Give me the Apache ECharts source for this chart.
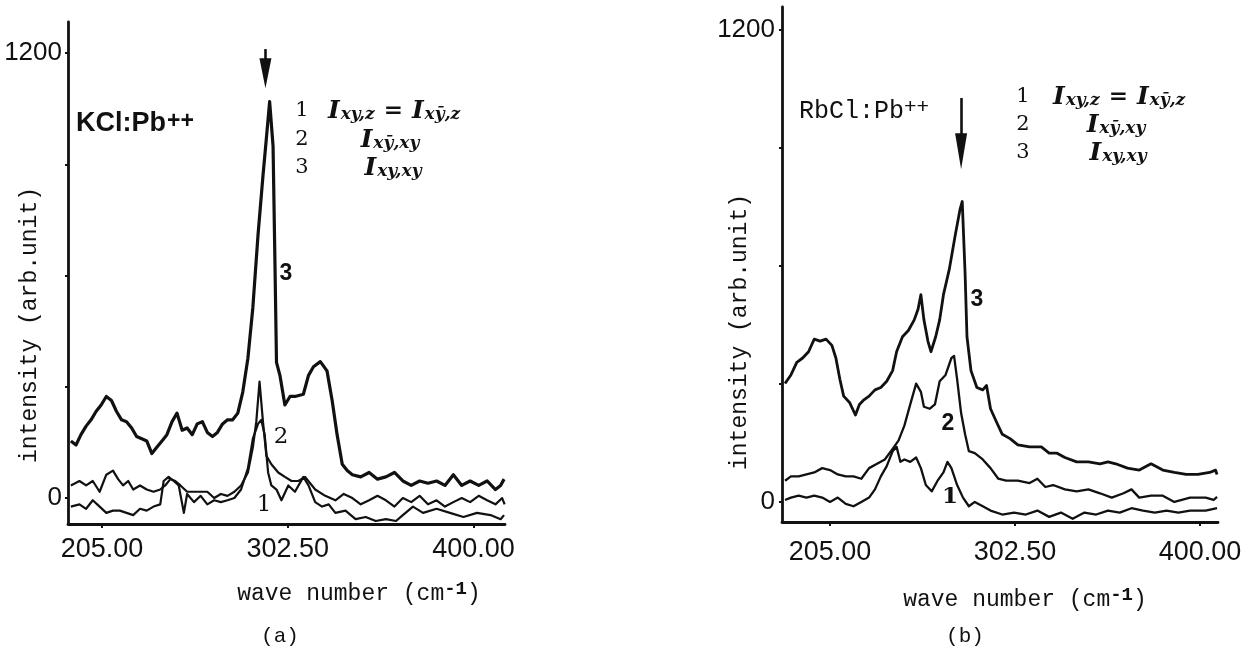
<!DOCTYPE html>
<html>
<head>
<meta charset="utf-8">
<script src="https://cdn.jsdelivr.net/npm/echarts@6/dist/echarts.min.js"></script>
<style>
html,body{margin:0;padding:0;background:#fff;}
#chart{width:1254px;height:663px;}
</style>
</head>
<body>
<div id="chart"></div>
<script>
// ---------- Tick labels ----------
const xTickValues = [205, 302.5, 400];
const yLabelValues = [0, 1200];
const yTickValues = [0, 300, 600, 900, 1200];

// ---------- (a) KCl:Pb++ ----------
const kclX3 = [188.7,191.4,194.0,196.7,199.3,202.0,204.6,207.3,210.0,212.6,215.3,217.9,220.6,223.2,225.9,228.5,231.2,233.8,236.5,239.1,241.8,244.4,247.1,249.7,252.4,255.0,257.7,260.3,263.0,265.6,268.3,270.9,273.6,276.3,278.9,281.6,284.2,286.9,289.5,291.3,293.0,294.8,295.7,296.6,298.4,301.0,303.7,306.3,310.7,313.4,316.0,319.6,323.1,325.8,328.4,331.1,333.7,336.4,340.8,345.2,349.6,354.0,358.5,362.9,367.3,371.7,376.1,380.6,385.0,389.4,393.8,398.2,402.7,407.1,411.5,414.2,416.0];
const kclY3 = [154,143,171,194,211,234,251,274,263,234,211,206,189,166,160,154,120,137,154,171,206,229,183,189,171,200,206,177,166,177,200,211,211,229,286,377,514,709,869,971,1069,949,663,366,331,251,274,274,280,331,354,368,343,263,171,91,74,63,57,69,51,57,69,46,34,46,40,46,34,63,34,46,34,46,23,34,51];

const kclX2 = [188.7,193.2,196.7,200.2,203.8,207.3,210.8,213.5,216.1,218.8,221.4,225.0,228.5,232.1,235.6,238.2,240.9,243.5,246.2,249.7,255.0,260.3,263.9,267.4,270.9,274.5,278.0,281.6,284.2,286.0,287.7,289.5,291.3,293.9,297.5,301.0,304.5,308.1,311.6,316.9,322.2,327.5,331.9,336.4,340.8,345.2,349.6,354.0,358.5,362.9,367.3,371.7,376.1,380.6,385.0,389.4,393.8,398.2,402.7,407.1,411.5,415.0,416.3];
const kclY2 = [34,46,34,46,17,63,74,51,34,46,23,34,23,17,23,34,51,46,34,17,17,17,0,11,6,17,34,69,137,206,314,206,114,91,69,57,46,46,57,23,6,-6,11,0,-17,-6,6,-6,-23,0,-11,6,-17,-6,-23,-11,0,-11,6,-6,-17,0,-17];

const kclX1 = [188.7,193.2,196.7,200.2,203.8,207.3,210.8,214.4,217.9,221.4,225.0,228.5,232.1,235.6,237.4,240.0,242.7,245.3,248.0,249.7,253.3,256.8,260.3,263.9,267.4,270.9,274.5,278.0,281.6,284.2,286.9,288.6,290.4,292.2,293.9,296.6,299.2,302.8,306.3,310.7,313.4,316.9,320.5,324.0,327.5,332.8,338.1,343.4,348.7,354.0,359.3,362.9,368.2,373.5,380.6,387.6,394.7,401.8,408.9,414.2,416.0];
const kclY1 = [-23,-17,-29,-6,-23,-40,-34,-34,-40,-46,-29,-34,-23,-17,46,57,46,34,-40,11,-11,6,-17,-6,-11,-6,0,23,80,160,200,211,171,69,34,23,-6,34,17,57,34,-11,-23,-17,-40,-34,-57,-51,-62,-57,-62,-46,-23,-40,-29,-40,-51,-40,-46,-57,-46];

// ---------- (b) RbCl:Pb++ ----------
const rbX3 = [181.3,184.4,187.5,190.6,193.7,196.7,199.8,202.9,206.0,208.1,210.2,212.2,215.3,218.4,220.5,222.5,225.6,228.7,231.8,234.9,238.0,240.1,243.2,246.3,249.4,251.4,252.9,254.5,256.6,258.2,260.7,262.8,264.8,267.9,271.0,273.5,274.7,276.2,277.2,279.3,282.4,285.5,287.5,289.6,292.7,295.8,299.9,304.0,310.2,316.4,320.5,324.7,328.8,335.0,341.2,347.3,351.5,355.6,361.8,368.0,374.2,380.4,386.5,392.7,398.9,405.1,408.2,409.0];
const rbY3 = [301,323,355,366,382,414,409,414,398,366,312,269,253,221,248,258,269,285,291,307,334,382,420,436,463,490,527,463,409,382,420,463,527,592,678,743,764,581,420,334,291,285,296,237,204,172,161,145,140,140,124,124,113,102,102,97,102,97,86,81,97,81,75,70,70,75,81,70];

const rbX2 = [181.3,184.4,188.5,192.6,196.7,200.9,205.0,209.1,213.3,217.4,221.5,225.6,229.8,233.9,238.0,241.1,244.2,247.3,250.4,252.9,254.5,257.6,260.3,262.8,265.9,269.0,270.4,272.0,274.1,276.2,278.2,281.3,285.5,289.6,293.7,297.8,304.0,310.2,314.3,318.5,322.6,328.8,335.0,341.2,347.3,353.5,359.7,363.9,368.0,374.2,380.4,386.5,394.8,403.0,407.2,409.0];
const rbY2 = [54,65,65,70,75,86,81,70,65,65,59,86,97,108,135,156,194,248,301,280,242,237,248,307,323,366,371,312,226,172,129,124,108,86,59,54,54,48,59,38,43,32,27,32,22,11,22,32,11,16,16,0,11,11,5,13];

const rbX1 = [181.3,184.4,188.5,192.6,196.7,200.9,205.0,209.1,213.3,217.4,221.5,225.6,228.7,231.8,234.9,238.0,240.1,242.1,244.2,247.3,250.4,252.9,255.5,258.6,261.7,264.8,266.9,269.0,272.0,275.1,278.2,281.3,285.5,289.6,295.8,302.0,308.2,314.3,320.5,326.7,332.9,339.1,345.3,351.5,357.7,363.9,370.0,376.2,382.4,388.6,394.8,403.0,409.0];
const rbY1 = [5,11,16,11,16,11,0,11,-5,-11,0,11,32,65,91,129,140,102,108,102,113,86,43,27,54,75,102,86,43,11,-11,0,-11,-22,-32,-27,-32,-22,-38,-27,-43,-27,-32,-22,-27,-16,-22,-27,-22,-27,-22,-22,-16];

// arrow markers (wave number, from, to intensity)
const kclArrow = [290.8, 1211, 1146];
const rbArrow = [274.1, 1027, 892];

const INK = '#111111';
function pairs(xs, ys) { return xs.map((x, i) => [x, ys[i]]); }

function xAxisCfg(gi, min, max, margin) {
  return {
    gridIndex: gi, type: 'value', min: min, max: max,
    axisLine: { show: true, onZero: false, lineStyle: { color: INK, width: 2.8 } },
    axisTick: { show: true, customValues: xTickValues, length: 4, lineStyle: { color: INK, width: 2 } },
    axisLabel: { customValues: xTickValues, formatter: v => v.toFixed(2), margin: margin,
      fontFamily: 'Liberation Sans', fontSize: 27, color: INK },
    splitLine: { show: false }
  };
}
function yAxisCfg(gi, min, max, margin) {
  return {
    gridIndex: gi, type: 'value', min: min, max: max,
    axisLine: { show: true, onZero: false, lineStyle: { color: INK, width: 2.8 } },
    axisTick: { show: true, customValues: yTickValues, length: 3, lineStyle: { color: INK, width: 2 } },
    axisLabel: { customValues: yLabelValues, formatter: v => String(v), margin: margin,
      fontFamily: 'Liberation Sans', fontSize: 26, color: INK },
    splitLine: { show: false }
  };
}
function lineSeries(gi, xs, ys, w) {
  return { type: 'line', xAxisIndex: gi, yAxisIndex: gi, data: pairs(xs, ys), showSymbol: false,
    symbol: 'none', smooth: false, animation: false, silent: true,
    lineStyle: { color: INK, width: w, join: 'round' } };
}
function arrowMark(a, headLen) {
  return { silent: true, animation: false, label: { show: false },
    lineStyle: { color: INK, width: 2.6, type: 'solid' },
    data: [[ { coord: [a[0], a[1]], symbol: 'none' },
             { coord: [a[0], a[2]], symbol: 'triangle', symbolSize: [12, headLen] } ]] };
}

const s3a = lineSeries(0, kclX3, kclY3, 3.2); s3a.markLine = arrowMark(kclArrow, 30);
const s3b = lineSeries(1, rbX3, rbY3, 2.8); s3b.markLine = arrowMark(rbArrow, 36);

const lserif = 'DejaVu Serif';
const mono = 'Liberation Mono';
const legendRich = {
  I: { fontFamily: lserif, fontWeight: 'bold', fontStyle: 'italic', fontSize: 25, lineHeight: 24, verticalAlign: 'middle', fill: INK },
  s: { fontFamily: lserif, fontWeight: 'bold', fontStyle: 'italic', fontSize: 17, lineHeight: 17, padding: [15, 0, 0, 1], verticalAlign: 'bottom', fill: INK },
  e: { fontFamily: lserif, fontWeight: 'bold', fontSize: 23, lineHeight: 24, padding: [0, 9, 0, 9], verticalAlign: 'middle', fill: INK }
};
function txt(x, y, text, font, align) {
  return { type: 'text', silent: true, style: { x: x, y: y, text: text, font: font, fill: INK,
    textAlign: align || 'center', textVerticalAlign: 'middle' } };
}
function formula(x, y, text, align) {
  return { type: 'text', silent: true,
    style: { x: x, y: y, text: text, rich: legendRich, textAlign: align, textVerticalAlign: 'middle', fill: INK } };
}
const nameRich = {
  a: { font: '23px "Liberation Mono"', lineHeight: 28, verticalAlign: 'middle', fill: INK },
  p: { fontFamily: mono, fontWeight: 'bold', fontSize: 19, lineHeight: 18, padding: [0, 0, 13, 0], verticalAlign: 'top', fill: INK }
};
const graphics = [
  // compound names
  { type: 'text', silent: true, style: { x: 76, y: 124, text: '{a|KCl:Pb}{p|++}',
    rich: { a: { font: 'bold 27px "Liberation Sans"', lineHeight: 28, verticalAlign: 'middle', fill: INK },
            p: { fontFamily: 'Liberation Sans', fontWeight: 'bold', fontSize: 23, lineHeight: 20, padding: [0, 0, 12, 1], verticalAlign: 'top', fill: INK } },
    textAlign: 'left', textVerticalAlign: 'middle' } },
  { type: 'text', silent: true, style: { x: 799, y: 111, text: '{a|RbCl:Pb}{p|++}',
    rich: { a: { font: '25px "Liberation Mono"', lineHeight: 28, verticalAlign: 'middle', fill: INK },
            p: { fontFamily: mono, fontSize: 21, lineHeight: 18, padding: [0, 0, 13, 0], verticalAlign: 'top', fill: INK } },
    textAlign: 'left', textVerticalAlign: 'middle' } },
  // legend (a)
  txt(302, 111, '1', '21px "DejaVu Serif"'),
  txt(302, 140, '2', '21px "DejaVu Serif"'),
  txt(302, 168, '3', '21px "DejaVu Serif"'),
  formula(328, 111, '{I|I}{s|xy,z}{e|=}{I|I}{s|xȳ,z}', 'left'),
  formula(390, 140, '{I|I}{s|xȳ,xy}', 'center'),
  formula(393, 168, '{I|I}{s|xy,xy}', 'center'),
  // legend (b)
  txt(1023, 97, '1', '21px "DejaVu Serif"'),
  txt(1023, 125, '2', '21px "DejaVu Serif"'),
  txt(1023, 153, '3', '21px "DejaVu Serif"'),
  formula(1053, 97, '{I|I}{s|xy,z}{e|=}{I|I}{s|xȳ,z}', 'left'),
  formula(1116, 125, '{I|I}{s|xȳ,xy}', 'center'),
  formula(1118, 153, '{I|I}{s|xy,xy}', 'center'),
  // curve numbers
  txt(286, 274, '3', 'bold 23px "Liberation Sans"'),
  txt(281, 437, '2', '23px "DejaVu Serif"'),
  txt(264, 505, '1', '23px "DejaVu Serif"'),
  txt(977, 300, '3', 'bold 23px "Liberation Sans"'),
  txt(948, 424, '2', 'bold 23px "Liberation Sans"'),
  txt(950, 497, '1', 'bold 23px "DejaVu Serif"'),
  // axis titles
  { type: 'text', silent: true, x: 30, y: 325, rotation: Math.PI / 2,
    style: { x: 0, y: 0, text: 'intensity (arb.unit)', font: '23px "Liberation Mono"', fill: INK, textAlign: 'center', textVerticalAlign: 'middle' } },
  { type: 'text', silent: true, x: 740, y: 332, rotation: Math.PI / 2,
    style: { x: 0, y: 0, text: 'intensity (arb.unit)', font: '23px "Liberation Mono"', fill: INK, textAlign: 'center', textVerticalAlign: 'middle' } },
  { type: 'text', silent: true, style: { x: 359, y: 594, text: '{a|wave number (cm}{p|-1}{a|)}', rich: nameRich,
    textAlign: 'center', textVerticalAlign: 'middle' } },
  { type: 'text', silent: true, style: { x: 1025, y: 600, text: '{a|wave number (cm}{p|-1}{a|)}', rich: nameRich,
    textAlign: 'center', textVerticalAlign: 'middle' } },
  // panel captions
  txt(280, 636, '(a)', '21px "Liberation Mono"'),
  txt(965, 636, '(b)', '21px "Liberation Mono"')
];

const chart = echarts.init(document.getElementById('chart'), null, { renderer: 'canvas' });
chart.setOption({
  backgroundColor: '#ffffff',
  animation: false,
  grid: [
    { left: 68, top: 22, width: 437, height: 502, containLabel: false },
    { left: 782, top: 7, width: 436, height: 515, containLabel: false }
  ],
  xAxis: [ xAxisCfg(0, 187.2, 416.5, 12), xAxisCfg(1, 179.7, 409.5, 17) ],
  yAxis: [ yAxisCfg(0, -70, 1284, 6), yAxisCfg(1, -51, 1258.5, 7) ],
  series: [
    lineSeries(0, kclX1, kclY1, 2.2),
    lineSeries(0, kclX2, kclY2, 2.2),
    s3a,
    lineSeries(1, rbX1, rbY1, 2.3),
    lineSeries(1, rbX2, rbY2, 2.3),
    s3b
  ],
  graphic: graphics
});
</script>
</body>
</html>
